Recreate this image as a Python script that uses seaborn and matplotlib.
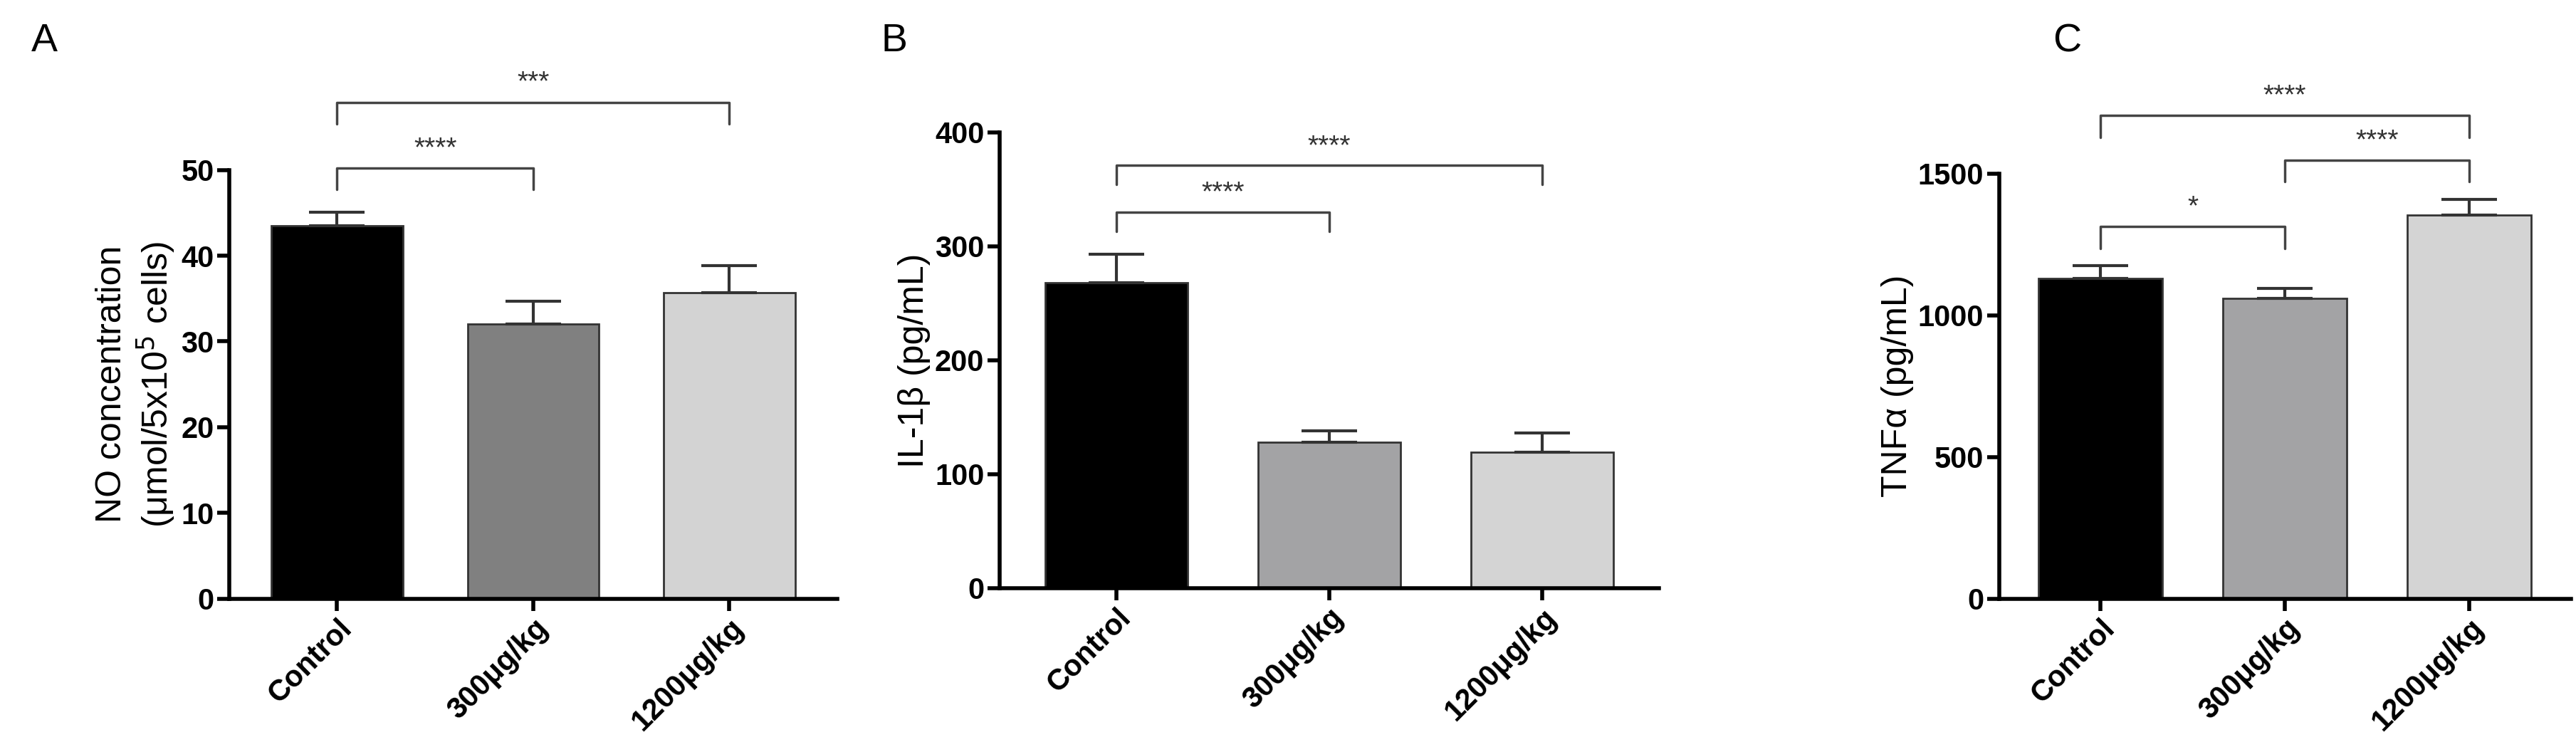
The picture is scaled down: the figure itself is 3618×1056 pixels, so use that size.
import matplotlib
matplotlib.use("Agg")
import matplotlib.pyplot as plt
import seaborn as sns
import pandas as pd

sns.set_theme(style="ticks")
plt.rcParams['font.family'] = ['Liberation Sans', 'DejaVu Sans']

groups = ["Control", "300\u03bcg/kg", "1200\u03bcg/kg"]
no_mean = [43.5, 32.0, 35.7]
no_err = [1.6, 2.7, 3.1]
il_mean = [268, 128, 119]
il_err = [25, 10, 17]
tnf_mean = [1130, 1060, 1355]
tnf_err = [45, 35, 55]

colors_a = ["#000000", "#808080", "#d3d3d3"]
colors_bc = ["#000000", "#a2a2a6", "#d4d4d4"]

# brackets: (i, j, y, drop, label)
br_a = [(0, 1, 50.2, 2.5, "****"), (0, 2, 57.9, 2.5, "***")]
br_b = [(0, 1, 330, 17, "****"), (0, 2, 371, 17, "****")]
br_c = [(0, 1, 1313, 76, "*"), (1, 2, 1547, 76, "****"), (0, 2, 1705, 76, "****")]

fig = plt.figure(figsize=(36.18, 10.56), dpi=100)
specs = [
    ([0.089, 0.204, 0.236, 0.570], no_mean, no_err, colors_a, (0, 50), [0, 10, 20, 30, 40, 50],
     "NO concentration\n(\u03bcmol/5x10$^{5}$ cells)", br_a, "A", 0.012),
    ([0.388, 0.218, 0.256, 0.606], il_mean, il_err, colors_bc, (0, 400), [0, 100, 200, 300, 400],
     "IL-1\u03b2 (pg/mL)", br_b, "B", 0.342),
    ([0.776, 0.204, 0.222, 0.565], tnf_mean, tnf_err, colors_bc, (0, 1500), [0, 500, 1000, 1500],
     "TNF\u03b1 (pg/mL)", br_c, "C", 0.797),
]

for rect, mean, err, cols, ylim, ticks, ylabel, brs, letter, lx in specs:
    ax = fig.add_axes(rect)
    df = pd.DataFrame({"group": groups, "value": mean})
    sns.barplot(data=df, x="group", y="value", hue="group", palette=cols,
                order=groups, hue_order=groups, legend=False, width=0.67,
                edgecolor="#333333", linewidth=2, ax=ax)
    ax.errorbar(range(3), mean, yerr=[[0, 0, 0], err], fmt="none",
                ecolor="#333333", elinewidth=3, capsize=28, capthick=3)
    ax.set_ylim(*ylim)
    ax.set_yticks(ticks)
    ax.set_xlim(-0.55, 2.55)
    sns.despine(ax=ax)
    for s in ["left", "bottom"]:
        ax.spines[s].set_linewidth(4)
        ax.spines[s].set_color("black")
    ax.tick_params(width=4, length=12, labelsize=30, colors="black")
    for t in ax.get_xticklabels() + ax.get_yticklabels():
        t.set_fontweight("bold")
    plt.setp(ax.get_xticklabels(), rotation=45, ha="right", rotation_mode="anchor")
    ax.set_xlabel("")
    ax.set_ylabel(ylabel, fontsize=36, color="black")
    for i, j, y, d, lab in brs:
        ax.plot([i, i, j, j], [y - d, y, y, y - d], color="#444444", lw=2.5, clip_on=False)
        ax.text((i + j) / 2, y + d * 0.3, lab, ha="center", va="bottom",
                fontsize=28, color="#333333", clip_on=False)
    fig.text(lx, 0.945, letter, fontsize=40, ha="left", va="center", color="black")

fig.savefig("out.png", dpi=100)
